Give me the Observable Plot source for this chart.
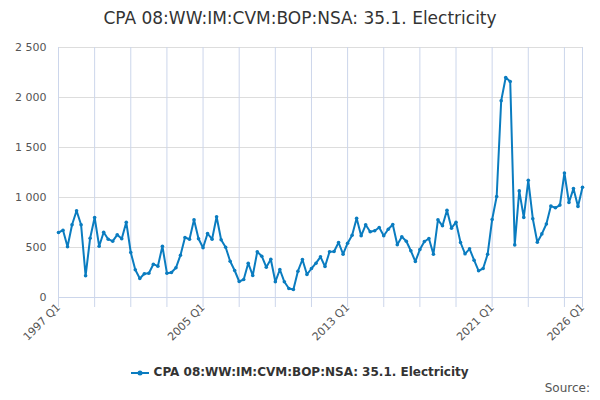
<!DOCTYPE html>
<html><head><meta charset="utf-8">
<script src="https://cdn.jsdelivr.net/npm/d3@7"></script>
<script src="https://cdn.jsdelivr.net/npm/@observablehq/plot@0.6"></script>
<style>
body{margin:0;width:600px;height:400px;font-family:"DejaVu Sans",sans-serif;background:#fff;position:relative;overflow:hidden}
#t{height:36px;line-height:36px;text-align:center;font-size:17px;color:#333}
#lg{position:absolute;top:365px;left:0;width:600px;text-align:center;font-size:12px;font-weight:bold;color:#333}
#src{position:absolute;top:381px;right:10px;font-size:12px;color:#555}
</style></head><body>
<div id="t">CPA 08:WW:IM:CVM:BOP:NSA: 35.1. Electricity</div>
<div id="c"></div>
<div id="lg"><svg width="18" height="10" style="vertical-align:middle"><line x1="0" y1="5" x2="18" y2="5" stroke="#0a7cc0" stroke-width="2"/><circle cx="9" cy="5" r="2.5" fill="#0a7cc0"/></svg> CPA 08:WW:IM:CVM:BOP:NSA: 35.1. Electricity</div>
<div id="src">Source:</div>
<script>
const startYear = 1997;
const values = [650,673,507,727,867,727,217,593,800,513,653,583,563,627,587,753,450,277,190,237,243,333,313,513,243,250,297,423,600,583,777,587,497,640,583,807,577,503,363,270,160,180,343,220,457,413,303,383,157,280,157,90,80,263,380,230,290,343,407,
310,457,460,550,433,543,623,793,617,727,657,667,700,617,683,730,527,607,563,467,360,480,560,590,433,777,717,873,693,753,550,437,487,373,267,290,433,780,1010,
1967,2200,2160,526,1066,801,1172,788,553,636,735,914,897,924,1245,950,1089,911,1103];
const tickLabels = ["1997 Q1","2005 Q1","2013 Q1","2021 Q1","2026 Q1"];
const label = i => `${startYear + Math.floor(i/4)} Q${i%4+1}`;
const data = values.map((v,i)=>({i,v}));
const last = values.length-1;
const tickIdx = d3.range(0,last,8).concat([last]);
const labIdx = tickIdx.filter(i=>tickLabels.includes(label(i)));
const fmt = v => d3.format(",")(v).replace(/,/g," ");
const plot = Plot.plot({
  width:600,height:320,marginTop:11,marginBottom:59,marginLeft:58,marginRight:18,
  style:{fontFamily:"DejaVu Sans",fontSize:"11px",color:"#555"},
  x:{domain:[0,last]},
  y:{domain:[0,2500]},
  marks:[
    Plot.gridY([0,500,1000,1500,2000,2500],{stroke:"#ddd",strokeOpacity:1}),
    Plot.ruleY([0],{stroke:"#ccd6eb"}),
    Plot.axisY([0,500,1000,1500,2000,2500],{tickSize:0,tickFormat:fmt,tickPadding:12,label:null}),
    Plot.tickX(tickIdx,{x:d=>d,y1:0,y2:0,stroke:"#ccd6eb"}),
    Plot.axisX(tickIdx,{tickSize:10,stroke:"#ccd6eb",tickFormat:()=>"",label:null}),
    Plot.axisX(labIdx,{tickSize:0,tickFormat:label,tickRotate:-45,tickPadding:8,label:null,fill:"#555"}),
    Plot.line(data,{x:"i",y:"v",stroke:"#0a7cc0",strokeWidth:2}),
    Plot.dot(data,{x:"i",y:"v",r:1.8,fill:"#0a7cc0"})
  ]
});
document.getElementById("c").appendChild(plot);
</script>
</body></html>
